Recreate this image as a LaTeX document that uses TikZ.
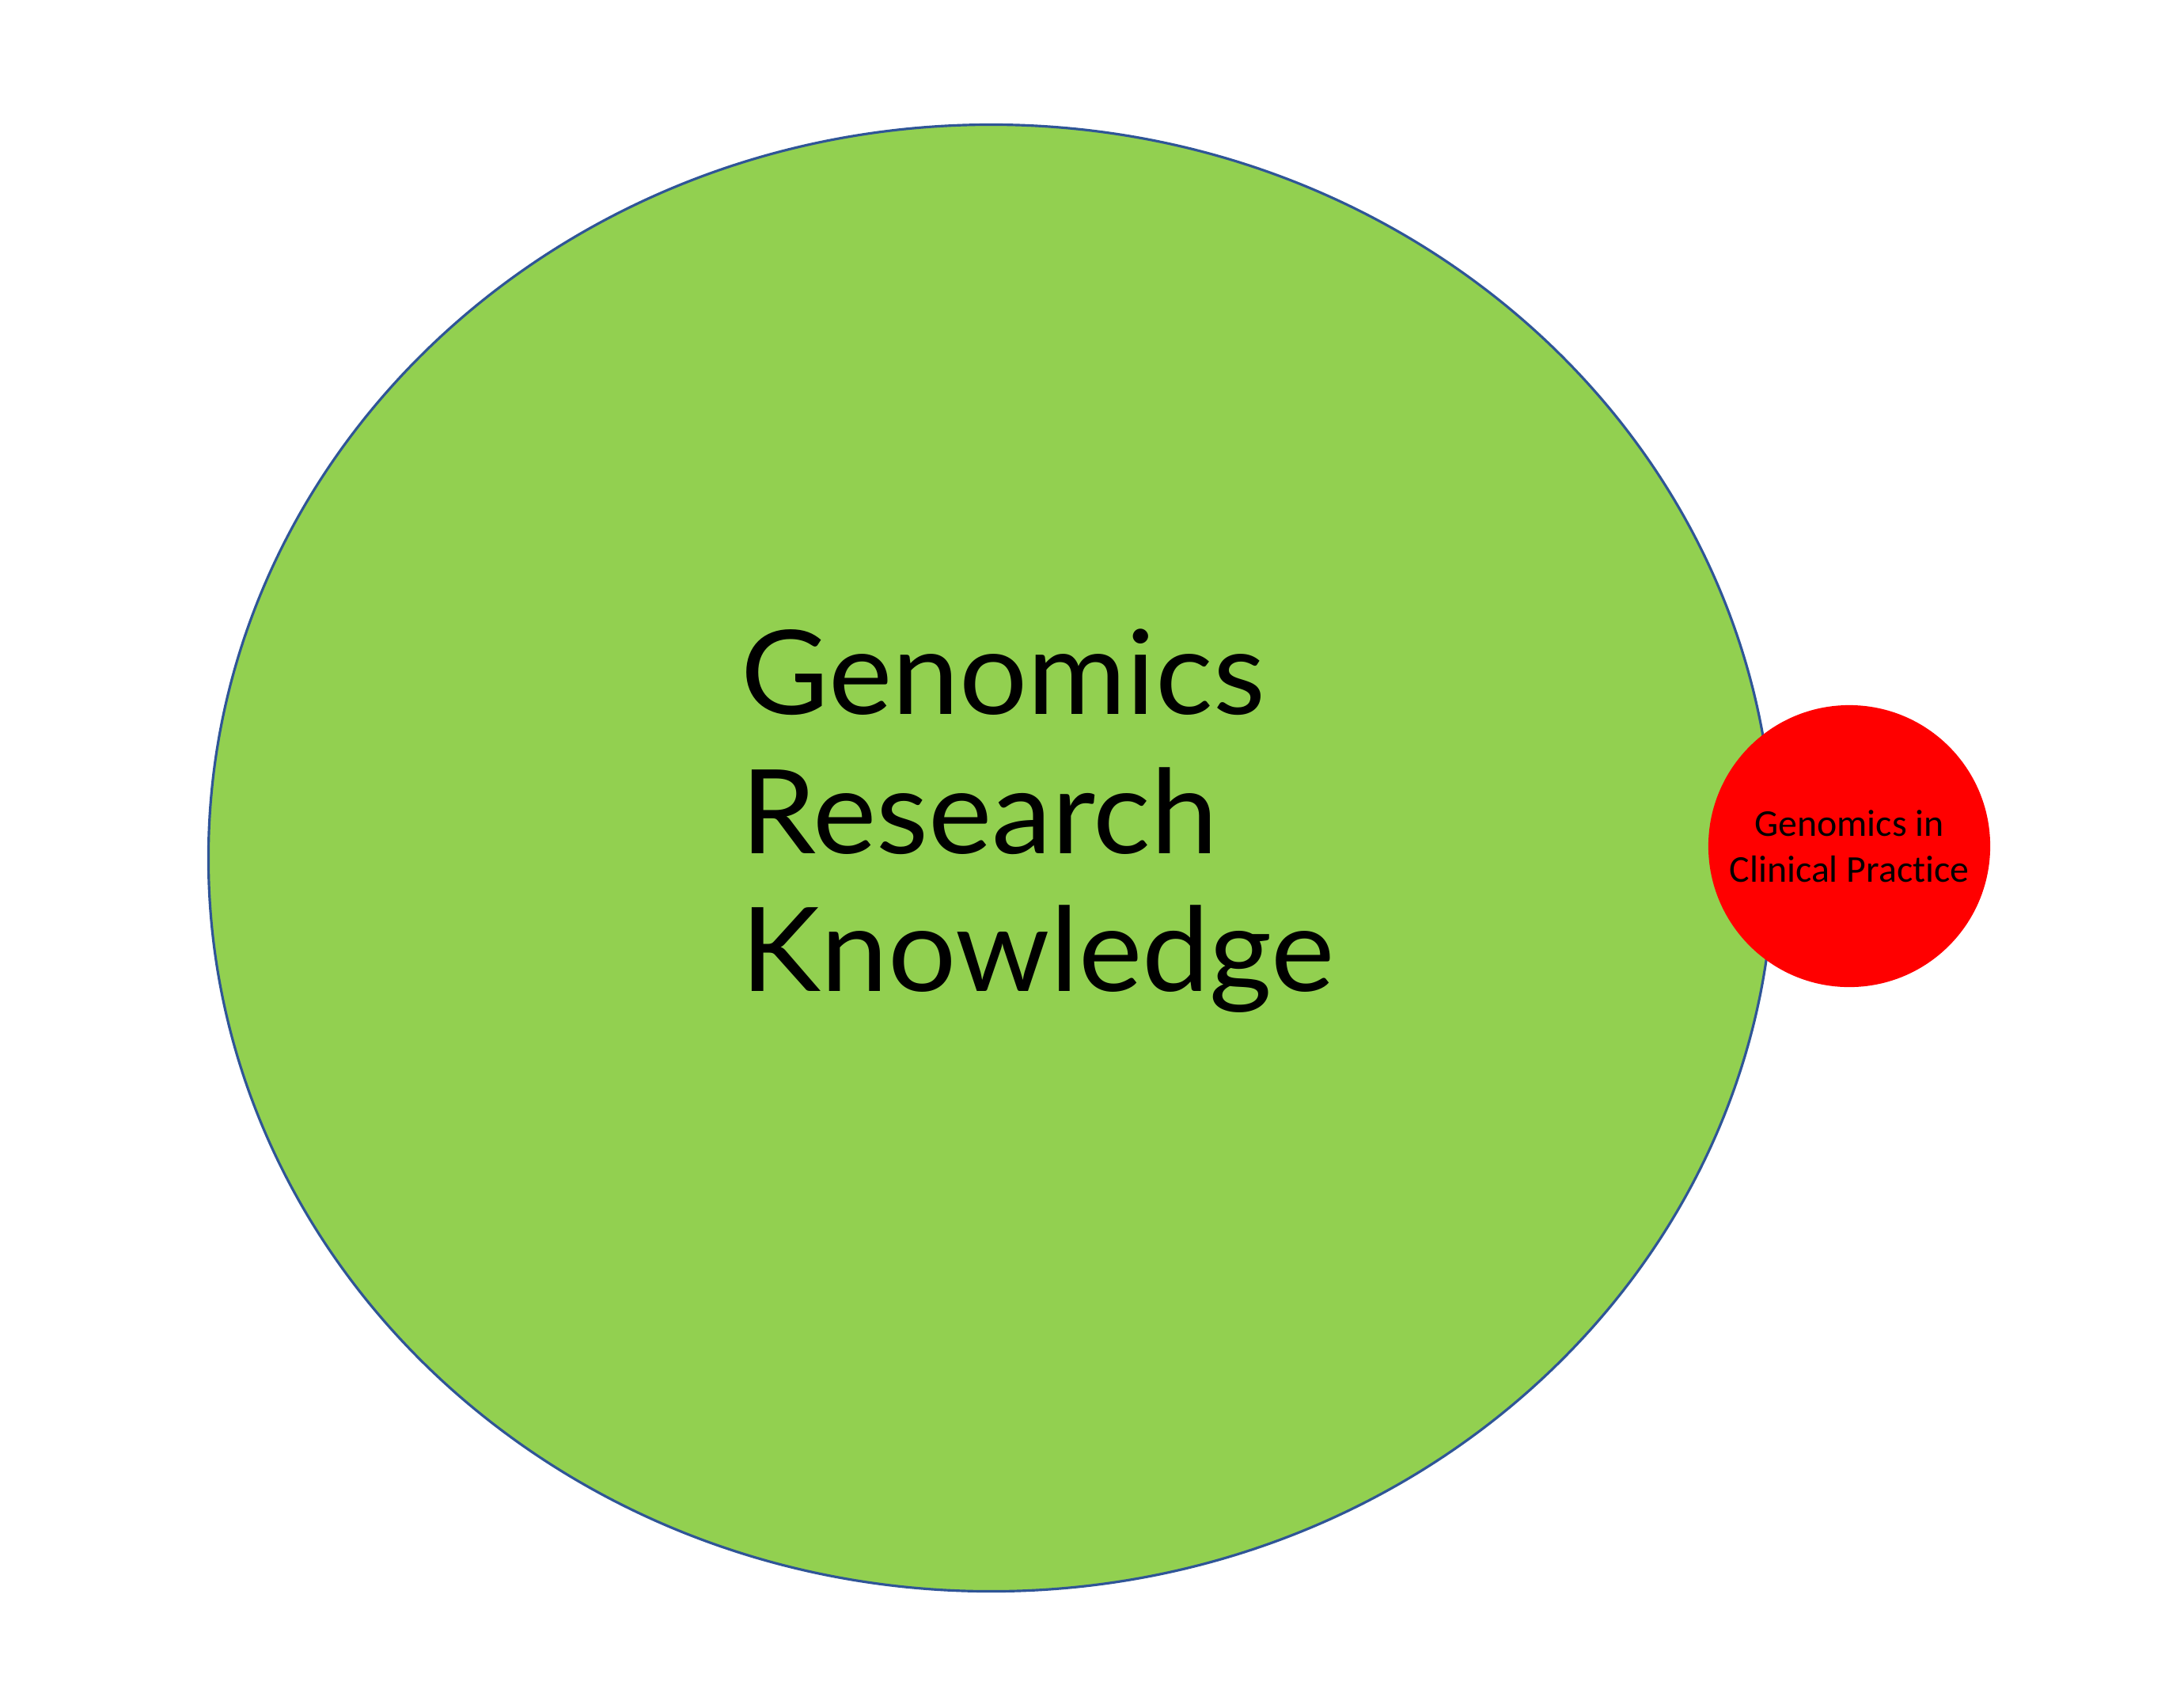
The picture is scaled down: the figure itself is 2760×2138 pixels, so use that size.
\documentclass[tikz,border=0pt]{standalone}
\usepackage{fontspec}
\usetikzlibrary{shapes.geometric}
\setmainfont[FakeStretch=1.03]{Lato}
\newfontfamily\calfont[Ligatures={NoCommon,NoRare}]{Carlito}
\definecolor{biggreen}{HTML}{92D050}
\definecolor{edgeblue}{HTML}{2F5597}
\definecolor{smallred}{HTML}{FF0000}
\begin{document}
\begin{tikzpicture}[x=0.01cm,y=-0.01cm,
  bigtext/.style={anchor=base west, inner sep=0pt, font=\fontsize{42}{50}\selectfont},
  smalltext/.style={font=\calfont\fontsize{13.6}{16.5}\selectfont, align=center}]
\useasboundingbox (0,0) rectangle (2760,2138);
\node[ellipse, draw=edgeblue, line width=0.9pt, fill=biggreen, inner sep=0pt,
  minimum width=19.77cm, minimum height=18.52cm] (know) at (1252.5,1084) {};
\node[bigtext] (t1) at (936,902) {Genomics};
\node[bigtext] (t2) at (936,1078) {Research};
\node[bigtext] (t3) at (936,1252) {Knowledge};
\node[circle, fill=smallred, minimum size=3.56cm, inner sep=0pt, smalltext] (clin) at (2337,1069) {Genomics in\\Clinical Practice};
\end{tikzpicture}
\end{document}
